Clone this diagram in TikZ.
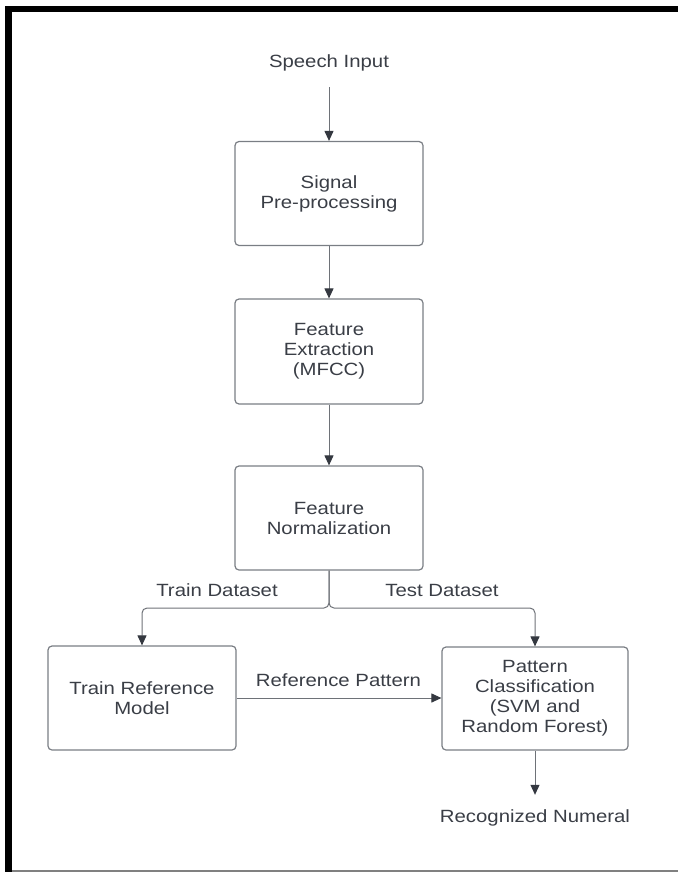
\documentclass[tikz,border=0pt]{standalone}
\usepackage{fontspec}
\setmainfont{Liberation Sans}[FakeStretch=1.15]
\usetikzlibrary{arrows.meta}
\definecolor{txt}{RGB}{58,62,70}
\definecolor{boxline}{RGB}{122,126,132}
\definecolor{arrline}{RGB}{110,114,120}
\definecolor{headc}{RGB}{52,56,64}
\tikzset{
  procbox/.style={draw=boxline, line width=1.2pt, rounded corners=4pt,
    minimum width=188pt, minimum height=104pt, inner sep=0pt, align=center,
    text=txt, font=\fontsize{17.7}{20}\selectfont},
  plain/.style={inner sep=0pt, text height=13pt, text depth=4pt, text=txt,
    font=\fontsize{17.7}{20}\selectfont},
  conn/.style={draw=arrline, line width=1pt},
  arr/.style={conn, -{Triangle[length=10pt,width=9pt,color=headc]}}
}
\begin{document}
\begin{tikzpicture}[x=1pt,y=-1pt]
\useasboundingbox (0,0) rectangle (678,872);
% frame
\fill[black] (5,6) rectangle (678,12);
\fill[black] (5,6) rectangle (12,872);
\draw[gray, line width=1.5pt] (12,871) -- (678,871);
% nodes
\node[plain] (speech) at (329,63) {Speech Input};
\node[procbox] (sig) at (329,193.5) {Signal\\Pre-processing};
\node[procbox, minimum height=105pt] (fext) at (329,351.5) {Feature\\Extraction\\(MFCC)};
\node[procbox] (fnorm) at (329,518) {Feature\\Normalization};
\node[procbox] (train) at (142,698) {Train Reference\\Model};
\node[procbox, minimum width=186pt, minimum height=103pt] (pat) at (535,698.5) {Pattern\\Classification\\(SVM and\\Random Forest)};
\node[plain] (rec) at (535,818) {Recognized Numeral};
\coordinate (split) at (329,608);
% connectors
\draw[arr, shorten <=15.5pt] (speech) -- (sig);
\draw[arr] (sig) -- (fext);
\draw[arr] (fext) -- (fnorm);
\draw[arr, rounded corners=5pt] (fnorm.south) -- (split) -| (train.north);
\draw[arr, rounded corners=5pt] (fnorm.south) -- (split) -| (pat.north);
\draw[arr] (train.east) -- (pat.west |- train.east);
\draw[arr, shorten >=14.5pt] (pat) -- (rec);
% labels
\node[plain] (ltrain) at (217,592) {Train Dataset};
\node[plain] (ltest) at (442,592) {Test Dataset};
\node[plain] (lref) at (338.5,682) {Reference Pattern};
\end{tikzpicture}
\end{document}
